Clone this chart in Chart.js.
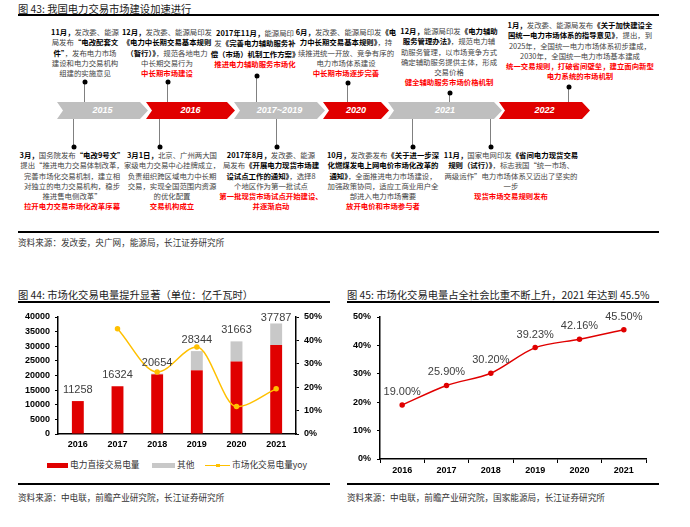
<!DOCTYPE html>
<html>
<head>
<meta charset="utf-8">
<title>电力交易市场</title>
<script src="https://cdn.jsdelivr.net/npm/chart.js"></script>
<style>
    body { margin: 0; width: 690px; height: 527px; background: #fff; position: relative; overflow: hidden;
           font-family: "Noto Sans CJK SC", "Liberation Sans", sans-serif; color: #333; }
    .abs { position: absolute; }
    .title { position: absolute; font-size: 10.3px; color: #222; white-space: nowrap; line-height: 12px; }
    .rule { position: absolute; height: 1.5px; background: #000; }
    .src { position: absolute; font-size: 8.6px; color: #333; white-space: nowrap; line-height: 10px; }
    .tb { position: absolute; transform: translateX(-50%); font-size: 7.4px; line-height: 10.3px;
          text-align: center; white-space: nowrap; color: #444; }
    .tb b { color: #000; }
    .tb .r { color: #f00; font-weight: bold; }
    .arrow { position: absolute; top: 102px; height: 17px; color: #fff; font: italic bold 9px "Liberation Sans", sans-serif;
             line-height: 17px; text-align: center;
             clip-path: polygon(0 0, calc(100% - 8px) 0, 100% 50%, calc(100% - 8px) 100%, 0 100%, 6px 50%); }
    .grey { background: #bfbfbf; }
    .red { background: #e00000; }
    .vl { position: absolute; width: 1px; background: #808080; }
    .dot { position: absolute; width: 5px; height: 5px; border-radius: 50%; background: #000; transform: translate(-50%, -50%); }
    .lg { position: absolute; font-size: 8.7px; color: #333; line-height: 10px; white-space: nowrap; }
</style>
</head>
<body>
<!-- 图43 时间轴 -->
<div class="title" style="left:18px; top:3px;">图 43: 我国电力交易市场建设加速进行</div>
<div class="rule" style="left:18px; top:14px; width:641px;"></div>

<div class="tb" style="left:85px; top:27px;"><b>11月，</b>发改委、能源<br>局发布<b>“电改配套文</b><br><b>件”</b>，发布电力市场<br>建设和电力交易机构<br>组建的实施意见</div>
<div class="tb" style="left:167px; top:27px;"><b>12月，</b>发改委、能源局印发<br><b>《电力中长期交易基本规则</b><br><b>（暂行）》</b>，规范各地电力<br>中长期交易行为<br><span class="r">中长期市场建设</span></div>
<div class="tb" style="left:255px; top:28px;"><b>2017年11月，</b>能源局印<br>发<b>《完善电力辅助服务补</b><br><b>偿（市场）机制工作方案》</b><br><span class="r">推进电力辅助服务市场化</span></div>
<div class="tb" style="left:346px; top:27px;"><b>6月，</b>发改委、能源局印发<b>《电</b><br><b>力中长期交易基本规则》</b>，持<br>续推进统一开放、竞争有序的<br>电力市场体系建设<br><span class="r">中长期市场逐步完善</span></div>
<div class="tb" style="left:449px; top:26px;"><b>12月，</b>能源局印发<b>《电力辅助</b><br><b>服务管理办法》</b>，规范电力辅<br>助服务管理，以市场竞争方式<br>确定辅助服务提供主体，形成<br>交易价格<br><span class="r">健全辅助服务市场价格机制</span></div>
<div class="tb" style="left:580px; top:20px;"><b>1月，</b>发改委、能源局发布<b>《关于加快建设全</b><br><b>国统一电力市场体系的指导意见》</b>，提出，到<br>2025年，全国统一电力市场体系初步建成，<br>2030年，全国统一电力市场基本建成<br><span class="r">统一交易规则，打破省间壁垒，建立面向新型</span><br><span class="r">电力系统的市场机制</span></div>

<div class="vl" style="left:84px; top:82px; height:20px;"></div>
<div class="vl" style="left:167px; top:82px; height:20px;"></div>
<div class="vl" style="left:256px; top:76px; height:26px;"></div>
<div class="vl" style="left:347px; top:83px; height:19px;"></div>
<div class="vl" style="left:449px; top:93px; height:9px;"></div>
<div class="vl" style="left:568px; top:87px; height:15px;"></div>
<div class="dot" style="left:84.5px; top:82px;"></div>
<div class="dot" style="left:167.5px; top:82px;"></div>
<div class="dot" style="left:256.5px; top:76px;"></div>
<div class="dot" style="left:347.5px; top:83px;"></div>
<div class="dot" style="left:449.5px; top:93px;"></div>
<div class="dot" style="left:568.5px; top:87px;"></div>

<div class="arrow grey" style="left:57px; width:91px;">2015</div>
<div class="arrow red" style="left:146px; width:89px;">2016</div>
<div class="arrow grey" style="left:234px; width:91px;">2017~2019</div>
<div class="arrow red" style="left:323px; width:66px;">2020</div>
<div class="arrow grey" style="left:388px; width:114px;">2021</div>
<div class="arrow red" style="left:499px; width:91px;">2022</div>

<div class="vl" style="left:73px; top:119px; height:28px;"></div>
<div class="vl" style="left:159px; top:119px; height:28px;"></div>
<div class="vl" style="left:276px; top:119px; height:28px;"></div>
<div class="vl" style="left:412px; top:119px; height:28px;"></div>
<div class="vl" style="left:490px; top:119px; height:28px;"></div>
<div class="dot" style="left:73.5px; top:147px;"></div>
<div class="dot" style="left:159.5px; top:147px;"></div>
<div class="dot" style="left:276.5px; top:147px;"></div>
<div class="dot" style="left:412.5px; top:147px;"></div>
<div class="dot" style="left:490.5px; top:147px;"></div>

<div class="tb" style="left:72px; top:150px;"><b>3月，</b>国务院发布<b>“电改9号文”</b><br>提出“推进电力交易体制改革，<br>完善市场化交易机制，建立相<br>对独立的电力交易机构，稳步<br>推进售电侧改革”<br><span class="r">拉开电力交易市场化改革序幕</span></div>
<div class="tb" style="left:172px; top:150px;"><b>3月1日，</b>北京、广州两大国<br>家级电力交易中心挂牌成立，<br>负责组织跨区域电力中长期<br>交易，实现全国范围内资源<br>的优化配置<br><span class="r">交易机构成立</span></div>
<div class="tb" style="left:271px; top:150px;"><b>2017年8月，</b>发改委、能源<br>局发布<b>《开展电力现货市场建</b><br><b>设试点工作的通知》</b>，选择8<br>个地区作为第一批试点<br><span class="r">第一批现货市场试点开始建设、</span><br><span class="r">并逐渐启动</span></div>
<div class="tb" style="left:383px; top:150px;"><b>10月，</b>发改委发布<b>《关于进一步深</b><br><b>化燃煤发电上网电价市场化改革的</b><br><b>通知》</b>，全面推进电力市场建设，<br>加强政策协同，适应工商业用户全<br>部进入电力市场需要<br><span class="r">放开电价和市场参与者</span></div>
<div class="tb" style="left:511px; top:150px;"><b>11月，</b>国家电网印发<b>《省间电力现货交易</b><br><b>规则（试行）》</b>，标志我国“统一市场、<br>两级运作”电力市场体系又迈出了坚实的<br>一步<br><span class="r">现货市场交易规则发布</span></div>

<div class="rule" style="left:18px; top:231px; width:641px;"></div>
<div class="src" style="left:18px; top:237px;">资料来源：发改委，央广网，能源局，长江证券研究所</div>

<!-- 图44 -->
<div class="title" style="left:18px; top:289px;">图 44: 市场化交易电量提升显著（单位：亿千瓦时）</div>
<div class="rule" style="left:18px; top:301px; width:312px;"></div>
<canvas id="c44" class="abs" width="345" height="150" style="left:0; top:305px;"></canvas>
<div class="abs" style="left:47px; top:463px; width:21px; height:5px; background:#e00000;"></div>
<div class="lg" style="left:70px; top:460px;">电力直接交易电量</div>
<div class="abs" style="left:152px; top:463px; width:23px; height:5px; background:#c8c8c8;"></div>
<div class="lg" style="left:177px; top:460px;">其他</div>
<div class="abs" style="left:205px; top:464.5px; width:25px; height:1.5px; background:#ffc000;"></div>
<div class="abs" style="left:216px; top:463.5px; width:3.5px; height:3.5px; background:#ffc000;"></div>
<div class="lg" style="left:232px; top:460px;">市场化交易电量yoy</div>
<div class="rule" style="left:18px; top:483px; width:312px;"></div>
<div class="src" style="left:18px; top:492px;">资料来源：中电联，前瞻产业研究院，长江证券研究所</div>

<!-- 图45 -->
<div class="title" style="left:347px; top:289px;">图 45: 市场化交易电量占全社会比重不断上升，2021 年达到 45.5%</div>
<div class="rule" style="left:347px; top:301px; width:312px;"></div>
<canvas id="c45" class="abs" width="345" height="175" style="left:345px; top:305px;"></canvas>
<div class="rule" style="left:347px; top:483px; width:312px;"></div>
<div class="src" style="left:347px; top:492px;">资料来源：中电联，前瞻产业研究院，国家能源局，长江证券研究所</div>

<script>
    // 数据
    const years = ['2016', '2017', '2018', '2019', '2020', '2021'];
    const directTrade = [11258, 16324, 20400, 21771, 24760, 30404];   // 电力直接交易电量
    const otherTrade = [0, 0, 254, 6573, 6903, 7383];                  // 其他
    const totalTrade = [11258, 16324, 20654, 28344, 31663, 37787];    // 合计（柱顶标签）
    const tradeYoy = [null, 45.0, 26.5, 37.2, 11.7, 19.3];             // 市场化交易电量yoy (%)
    const marketShare = [19.00, 25.90, 30.20, 39.23, 42.16, 45.50];   // 占全社会比重 (%)

    const tickFont = { family: 'Liberation Sans', size: 9, weight: 'bold' };
    const black = '#000';

    // 柱顶合计标签（取堆叠最上层“其他”的位置）
    const totalLabels = {
        id: 'totalLabels',
        afterDatasetsDraw(chart) {
            const ctx = chart.ctx;
            const meta = chart.getDatasetMeta(2);
            ctx.save();
            ctx.font = '11px "Liberation Sans"';
            ctx.fillStyle = '#404040';
            ctx.textAlign = 'center';
            ctx.textBaseline = 'middle';
            meta.data.forEach((bar, i) => {
                let y = Math.max(bar.y - 11, chart.chartArea.top + 1);
                ctx.fillText(String(totalTrade[i]), bar.x, y);
            });
            ctx.restore();
        }
    };

    new Chart(document.getElementById('c44'), {
        type: 'bar',
        data: {
            labels: years,
            datasets: [
                { type: 'line', label: '市场化交易电量yoy', data: tradeYoy, yAxisID: 'y1', order: 0,
                  borderColor: '#ffc000', backgroundColor: '#ffc000', borderWidth: 1.5,
                  pointRadius: 2, pointHoverRadius: 2, cubicInterpolationMode: 'monotone', fill: false },
                { label: '电力直接交易电量', data: directTrade, backgroundColor: '#e00000', order: 1,
                  barPercentage: 0.3, categoryPercentage: 1 },
                { label: '其他', data: otherTrade, backgroundColor: '#c8c8c8', order: 1,
                  barPercentage: 0.3, categoryPercentage: 1 }
            ]
        },
        options: {
            responsive: false,
            animation: false,
            layout: { padding: { top: 12, left: 0, right: 0, bottom: 0 } },
            plugins: { legend: { display: false }, tooltip: { enabled: false } },
            scales: {
                x: {
                    stacked: true,
                    grid: { display: false, drawTicks: false },
                    border: { color: black, width: 1.5 },
                    ticks: { font: tickFont, color: black, padding: 5 },
                    afterFit: s => { s.height = 21; }
                },
                y: {
                    stacked: true, min: 0, max: 40000,
                    grid: { drawOnChartArea: false, drawTicks: true, tickLength: 3, color: black },
                    border: { color: black, width: 1.5 },
                    ticks: { stepSize: 5000, font: tickFont, color: black, padding: 5, callback: v => String(v) },
                    afterFit: s => { s.width = 58; }
                },
                y1: {
                    position: 'right', min: 0, max: 50,
                    grid: { drawOnChartArea: false, drawTicks: true, tickLength: 3, color: black },
                    border: { color: black, width: 1.5 },
                    ticks: { stepSize: 5, font: tickFont, color: black, padding: 5, callback: v => v + '%' },
                    afterFit: s => { s.width = 49; }
                }
            }
        },
        plugins: [totalLabels]
    });

    // 折线点上方百分比标签
    const shareLabels = {
        id: 'shareLabels',
        afterDatasetsDraw(chart) {
            const ctx = chart.ctx;
            const meta = chart.getDatasetMeta(0);
            ctx.save();
            ctx.font = '11px "Liberation Sans"';
            ctx.fillStyle = '#404040';
            ctx.textAlign = 'center';
            ctx.textBaseline = 'middle';
            meta.data.forEach((pt, i) => {
                ctx.fillText(marketShare[i].toFixed(2) + '%', pt.x, pt.y - 13);
            });
            ctx.restore();
        }
    };

    new Chart(document.getElementById('c45'), {
        type: 'line',
        data: {
            labels: years,
            datasets: [
                { label: '市场化交易电量占比', data: marketShare, borderColor: '#e00000', backgroundColor: '#e00000',
                  borderWidth: 1.5, pointRadius: 2, pointHoverRadius: 2, tension: 0.3, fill: false }
            ]
        },
        options: {
            responsive: false,
            animation: false,
            layout: { padding: { top: 12, left: 0, right: 44, bottom: 0 } },
            plugins: { legend: { display: false }, tooltip: { enabled: false } },
            scales: {
                x: {
                    offset: true,
                    grid: { offset: true, drawOnChartArea: false, drawTicks: true, tickLength: 4, color: black },
                    border: { color: black, width: 1.5 },
                    ticks: { font: tickFont, color: black, padding: 2 },
                    afterFit: s => { s.height = 21; }
                },
                y: {
                    min: 0, max: 50,
                    grid: { drawOnChartArea: false, drawTicks: true, tickLength: 3, color: black },
                    border: { color: black, width: 1.5 },
                    ticks: { stepSize: 10, font: tickFont, color: black, padding: 6, callback: v => v + '%' },
                    afterFit: s => { s.width = 35; }
                }
            }
        },
        plugins: [shareLabels]
    });
</script>
</body>
</html>
